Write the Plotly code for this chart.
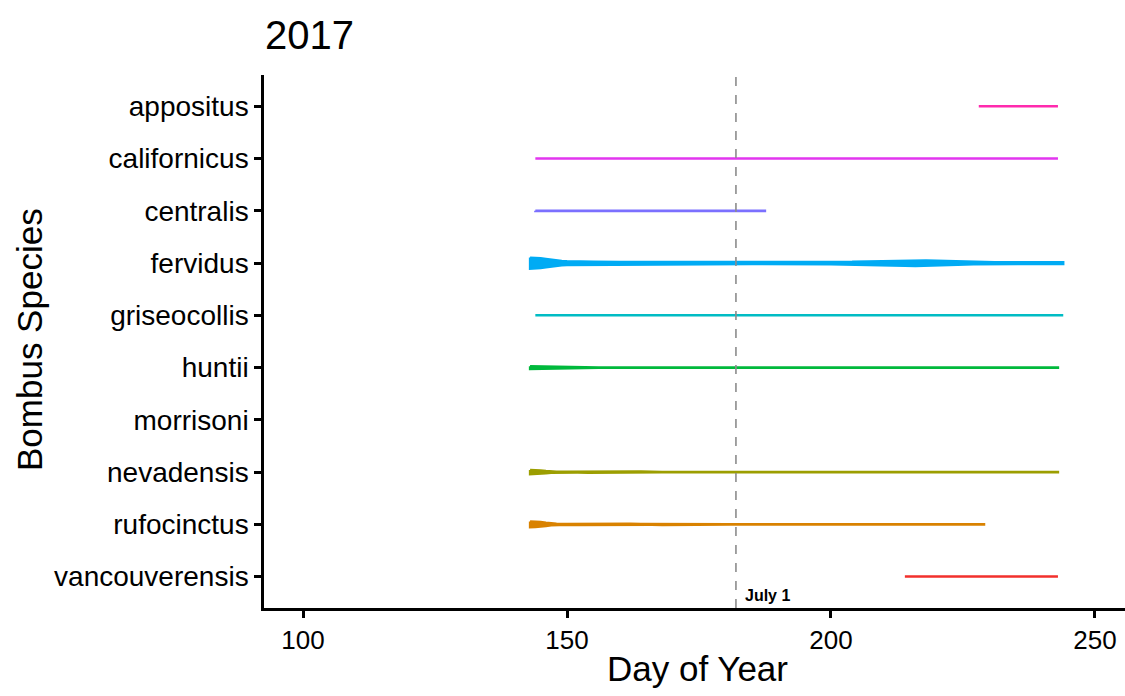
import plotly.graph_objects as go

# Species, bottom to top on the y axis
species = ["vancouverensis", "rufocinctus", "nevadensis", "morrisoni", "huntii",
           "griseocollis", "fervidus", "centralis", "californicus", "appositus"]
colors = ["#F2302C", "#D98200", "#9C9E00", "#4DB300", "#00B93C",
          "#00BCC4", "#00ABF4", "#7B70FF", "#E236EF", "#FF2AAE"]

# Violin profiles: day of year and half-width of the density (in category units)
vancouverensis_day = [214, 243]
vancouverensis_hw = [0.003, 0.003]

rufocinctus_day = [143, 144, 145, 146, 147, 148, 150, 152, 154, 156, 158, 160, 162, 164, 166,
                   168, 170, 172, 174, 176, 178, 181, 229]
rufocinctus_hw = [0.055, 0.053, 0.045, 0.031, 0.019, 0.012, 0.009, 0.011, 0.015, 0.020, 0.022,
                  0.020, 0.015, 0.010, 0.009, 0.013, 0.018, 0.020, 0.017, 0.011, 0.007, 0.005, 0.005]

nevadensis_day = [143, 144, 145, 146, 147, 148, 150, 152, 154, 156, 158, 160, 162, 164, 166, 168, 243]
nevadensis_hw = [0.042, 0.040, 0.032, 0.021, 0.013, 0.009, 0.008, 0.010, 0.013, 0.016, 0.018,
                 0.018, 0.015, 0.011, 0.007, 0.005, 0.005]

morrisoni_day = []
morrisoni_hw = []

huntii_day = [143, 144, 146, 148, 150, 152, 154, 156, 243]
huntii_hw = [0.027, 0.026, 0.022, 0.017, 0.012, 0.008, 0.006, 0.004, 0.004]

griseocollis_day = [144, 244]
griseocollis_hw = [0.003, 0.003]

fervidus_day = [143, 144, 145, 146, 147, 148, 149, 150, 152, 155, 160, 170, 185, 200, 204, 207,
                210, 212, 214, 216, 218, 220, 222, 224, 227, 231, 236, 244]
fervidus_hw = [0.106, 0.102, 0.093, 0.079, 0.064, 0.051, 0.042, 0.036, 0.030, 0.026, 0.023, 0.021,
               0.020, 0.021, 0.025, 0.032, 0.041, 0.047, 0.052, 0.054, 0.052, 0.047, 0.040, 0.032,
               0.024, 0.018, 0.016, 0.016]

centralis_day = [144, 162, 165, 167, 169, 171, 173, 175, 177, 179, 181, 187.5]
centralis_hw = [0.004, 0.004, 0.006, 0.009, 0.013, 0.016, 0.017, 0.015, 0.011, 0.007, 0.004, 0.004]

californicus_day = [144, 243]
californicus_hw = [0.003, 0.003]

appositus_day = [228, 243]
appositus_hw = [0.003, 0.003]

profiles = {
    "vancouverensis": (vancouverensis_day, vancouverensis_hw),
    "rufocinctus": (rufocinctus_day, rufocinctus_hw),
    "nevadensis": (nevadensis_day, nevadensis_hw),
    "morrisoni": (morrisoni_day, morrisoni_hw),
    "huntii": (huntii_day, huntii_hw),
    "griseocollis": (griseocollis_day, griseocollis_hw),
    "fervidus": (fervidus_day, fervidus_hw),
    "centralis": (centralis_day, centralis_hw),
    "californicus": (californicus_day, californicus_hw),
    "appositus": (appositus_day, appositus_hw),
}

x_ticks = [100, 150, 200, 250]
JULY_1 = 182

W, H = 1125, 696
L, R, T, B = 264, 0, 75, 88
FONT = "Liberation Sans, Arial, sans-serif"

fig = go.Figure()

for i, name in enumerate(species):
    days, hw = profiles[name]
    if not days:
        continue
    pos = i + 1
    xs = list(days) + list(reversed(days)) + [days[0]]
    ys = [pos + h for h in hw] + [pos - h for h in reversed(hw)] + [pos + hw[0]]
    fig.add_trace(go.Scatter(
        x=xs, y=ys, mode="lines", fill="toself",
        fillcolor=colors[i], line=dict(color=colors[i], width=2.4),
        hoverinfo="skip", showlegend=False, name=name,
    ))

# July 1 reference line
fig.add_shape(type="line", x0=JULY_1, x1=JULY_1, xref="x", y0=0, y1=1, yref="paper",
              line=dict(color="#8C8C8C", width=1.6, dash="dash"))
fig.add_annotation(x=JULY_1, y=0.63, xref="x", yref="y", text="<b>July 1</b>",
                   showarrow=False, xanchor="left", yanchor="middle", xshift=7,
                   font=dict(family=FONT, size=16, color="black"))


def to_plot_frac(px, py):
    """Convert pixel position on the page to paper fractions of the plot area."""
    return (px - L) / (W - L - R), 1 - (py - T) / (H - T - B)


xt_x, xt_y = to_plot_frac(697, 668)
yt_x, yt_y = to_plot_frac(29, 340)
fig.add_annotation(text="Day of Year", x=xt_x, y=xt_y, xref="paper", yref="paper",
                   xanchor="center", yanchor="middle", showarrow=False,
                   font=dict(family=FONT, size=35, color="black"))
fig.add_annotation(text="Bombus Species", x=yt_x, y=yt_y, xref="paper", yref="paper",
                   xanchor="center", yanchor="middle", showarrow=False, textangle=-90,
                   font=dict(family=FONT, size=35, color="black"))

fig.update_layout(
    width=W, height=H,
    margin=dict(l=L, r=R, t=T, b=B),
    plot_bgcolor="white", paper_bgcolor="white",
    font=dict(family=FONT, color="black"),
    title=dict(text="2017", x=265 / W, xref="container", xanchor="left",
               y=1 - 35 / H, yref="container", yanchor="middle",
               font=dict(family=FONT, size=40, color="black")),
    xaxis=dict(range=[92.6, 255.7], tickvals=x_ticks, ticktext=[str(v) for v in x_ticks],
               showline=True, linecolor="black", linewidth=2.5, ticks="outside",
               ticklen=7, tickwidth=2.5, tickcolor="black", showgrid=False, zeroline=False,
               tickfont=dict(family=FONT, size=26, color="black")),
    yaxis=dict(range=[0.4, 10.6], tickvals=list(range(1, len(species) + 1)), ticktext=species,
               showline=True, linecolor="black", linewidth=2.5, ticks="outside",
               ticklen=7, tickwidth=2.5, tickcolor="black", showgrid=False, zeroline=False,
               tickfont=dict(family=FONT, size=28, color="black")),
)

fig.write_html("out.html")
